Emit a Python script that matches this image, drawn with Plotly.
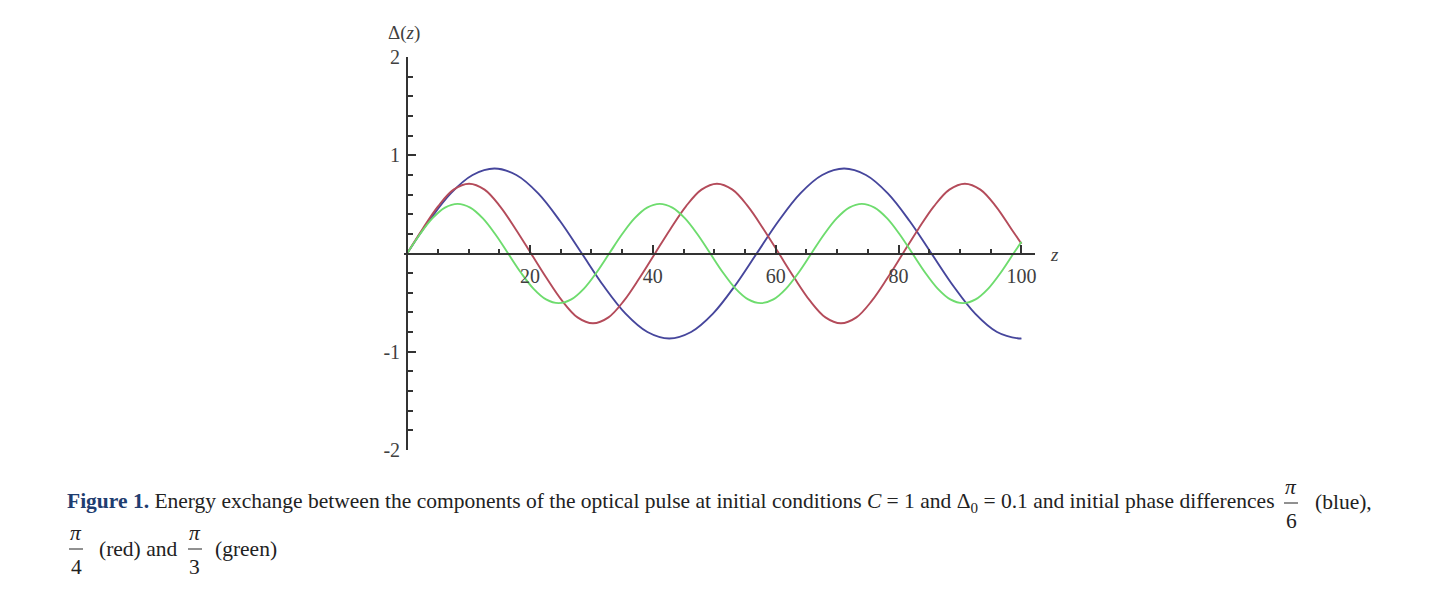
import plotly.graph_objects as go

# curves (z, Delta(z))
blue_z = [0, 3.56, 7.11, 10.67, 14.22, 17.78, 21.34, 24.89, 28.45, 32.0, 35.56, 39.12, 42.67, 46.23, 49.79,
          53.34, 56.9, 60.46, 64.01, 67.57, 71.13, 74.68, 78.24, 81.79, 85.35, 88.91, 92.46, 96.02, 99.58, 100]
blue_delta = [0, 0.331, 0.612, 0.799, 0.865, 0.799, 0.612, 0.331, 0, -0.331, -0.612, -0.799, -0.865, -0.799, -0.612,
              -0.331, 0, 0.331, 0.612, 0.799, 0.865, 0.799, 0.612, 0.331, 0, -0.331, -0.612, -0.799, -0.865, -0.864]

red_z = [0, 2.52, 5.04, 7.57, 10.09, 12.61, 15.13, 17.65, 20.18, 22.70, 25.22, 27.74, 30.26, 32.78, 35.31, 37.83,
         40.35, 42.87, 45.39, 47.92, 50.44, 52.96, 55.48, 58.0, 60.53, 63.05, 65.57, 68.09, 70.61, 73.13, 75.66, 78.18,
         80.7, 83.22, 85.74, 88.27, 90.79, 93.31, 95.83, 98.35, 100]
red_delta = [0, 0.25, 0.48, 0.65, 0.71, 0.65, 0.48, 0.25, 0, -0.25, -0.48, -0.65, -0.71, -0.65, -0.48, -0.25,
             0, 0.25, 0.48, 0.65, 0.71, 0.65, 0.48, 0.25, 0, -0.25, -0.48, -0.65, -0.71, -0.65, -0.48, -0.25,
             0, 0.25, 0.48, 0.65, 0.71, 0.65, 0.48, 0.25, 0.10]

green_z = [0, 2.06, 4.11, 6.17, 8.23, 10.28, 12.34, 14.39, 16.45, 18.51, 20.56, 22.62, 24.68, 26.73, 28.79, 30.84,
           32.9, 34.96, 37.01, 39.07, 41.13, 43.18, 45.24, 47.29, 49.35, 51.41, 53.46, 55.52, 57.58, 59.63, 61.69, 63.74,
           65.8, 67.86, 69.91, 71.97, 74.03, 76.08, 78.14, 80.19, 82.25, 84.31, 86.36, 88.42, 90.48, 92.53, 94.59, 96.64,
           98.7, 100]
green_delta = [0, 0.193, 0.357, 0.467, 0.505, 0.467, 0.357, 0.193, 0, -0.193, -0.357, -0.467, -0.505, -0.467, -0.357, -0.193,
               0, 0.193, 0.357, 0.467, 0.505, 0.467, 0.357, 0.193, 0, -0.193, -0.357, -0.467, -0.505, -0.467, -0.357, -0.193,
               0, 0.193, 0.357, 0.467, 0.505, 0.467, 0.357, 0.193, 0, -0.193, -0.357, -0.467, -0.505, -0.467, -0.357, -0.193,
               0, 0.12]

x_ticks = [20, 40, 60, 80, 100]
y_ticks = [-2, -1, 1, 2]
y_labels = ["-2", "-1", "1", "2"]

# the page body adds an 8px margin, so the figure is drawn 8px in from the window edge
OFF = 8
FIG_W, FIG_H = 1438 - 2 * OFF, 605 - 2 * OFF
# plot box in figure pixels
L, T, W, H = 404 - OFF, 57 - OFF, 631, 393


def px(x):
    # window pixel -> paper fraction
    return (x - OFF - L) / W


def py(y):
    return 1 - (y - OFF - T) / H


serif = "Liberation Serif"
txt = "#222222"
cap = 21.5

fig = go.Figure()
fig.add_trace(go.Scatter(x=blue_z, y=blue_delta, mode="lines", line=dict(color="#46469c", width=1.9, shape="spline")))
fig.add_trace(go.Scatter(x=red_z, y=red_delta, mode="lines", line=dict(color="#b44b5a", width=1.9, shape="spline")))
fig.add_trace(go.Scatter(x=green_z, y=green_delta, mode="lines", line=dict(color="#6edc6e", width=1.9, shape="spline")))

annotations = [
    dict(x=px(404), y=py(33), text="Δ(<i>z</i>)", font=dict(size=19, color="#404040")),
    dict(x=px(1054), y=py(255), text="<i>z</i>", font=dict(size=19, color="#404040")),
    dict(x=px(65), y=py(502), xanchor="left",
         text="<b><span style='color:#1f3d70'>Figure 1.</span></b> Energy exchange between the components of the "
              "optical pulse at initial conditions <i>C</i> = 1 and Δ<sub>0</sub> = 0.1 and initial phase differences",
         font=dict(size=cap, color=txt)),
    dict(x=px(1291), y=py(487), text="<i>π</i>", font=dict(size=cap, color=txt)),
    dict(x=px(1291), y=py(521), text="6", font=dict(size=cap, color=txt)),
    dict(x=px(1313), y=py(502), xanchor="left", text="(blue),", font=dict(size=cap, color=txt)),
    dict(x=px(76), y=py(533), text="<i>π</i>", font=dict(size=cap, color=txt)),
    dict(x=px(76), y=py(567), text="4", font=dict(size=cap, color=txt)),
    dict(x=px(97), y=py(549), xanchor="left", text="(red) and", font=dict(size=cap, color=txt)),
    dict(x=px(195), y=py(533), text="<i>π</i>", font=dict(size=cap, color=txt)),
    dict(x=px(195), y=py(567), text="3", font=dict(size=cap, color=txt)),
    dict(x=px(213), y=py(549), xanchor="left", text="(green)", font=dict(size=cap, color=txt)),
]
for a in annotations:
    a.update(xref="paper", yref="paper", showarrow=False)
    a.setdefault("xanchor", "center")
    a["yanchor"] = "middle"
    a["font"]["family"] = serif

bars = [(1284, 1298, 503), (69, 83, 549), (188, 202, 549)]
shapes = [dict(type="line", xref="paper", yref="paper", x0=px(a), x1=px(b), y0=py(y), y1=py(y),
               line=dict(color=txt, width=1)) for a, b, y in bars]

fig.update_layout(
    width=FIG_W, height=FIG_H,
    margin=dict(l=L, r=FIG_W - L - W, t=T, b=FIG_H - T - H),
    paper_bgcolor="white", plot_bgcolor="white",
    showlegend=False,
    annotations=annotations,
    shapes=shapes,
    xaxis=dict(range=[-0.5, 102.2], anchor="free", position=0.5,
               tickmode="array", tickvals=x_ticks, ticks="inside", ticklen=8, tickwidth=1.5,
               tickcolor="#333", showline=True, linecolor="#333", linewidth=2,
               showgrid=False, zeroline=False, ticklabelstandoff=4,
               minor=dict(tickmode="linear", tick0=0, dtick=5, ticks="inside", ticklen=4, tickcolor="#333"),
               tickfont=dict(family=serif, size=20, color="#404040")),
    yaxis=dict(range=[-2, 2], anchor="free", position=0.5 / 102.7,
               tickmode="array", tickvals=y_ticks, ticktext=y_labels, ticks="inside", ticklen=8, tickwidth=1.5,
               tickcolor="#333", showline=True, linecolor="#333", linewidth=2,
               showgrid=False, zeroline=False, ticklabelstandoff=2,
               minor=dict(tickmode="linear", tick0=0, dtick=0.2, ticks="inside", ticklen=5, tickcolor="#333"),
               tickfont=dict(family=serif, size=20, color="#404040")),
)

fig.write_html("out.html")
